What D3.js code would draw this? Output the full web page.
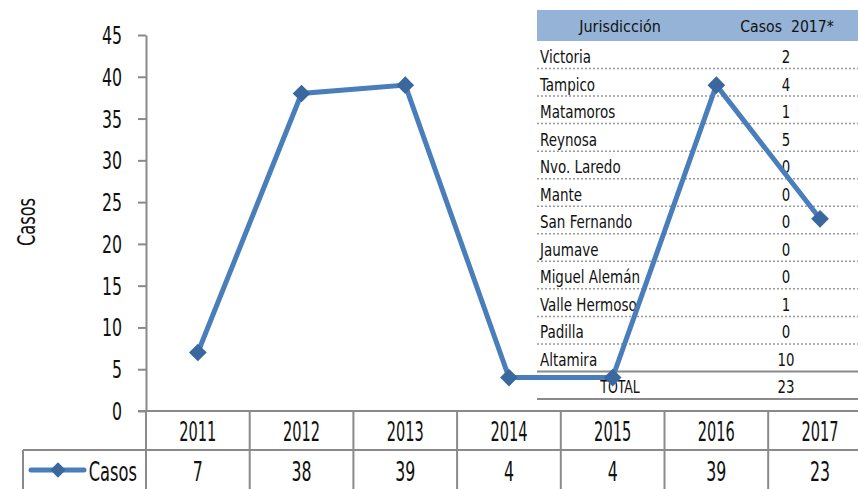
<!DOCTYPE html>
<html>
<head>
<meta charset="utf-8">
<script src="https://cdn.jsdelivr.net/npm/d3@7"></script>
<style>
  html, body { margin: 0; padding: 0; background: #fff; }
  svg { display: block; }
</style>
</head>
<body>
<div id="chart"></div>
<script>
// chart data
const years = ["2011", "2012", "2013", "2014", "2015", "2016", "2017"];
const casos = [7, 38, 39, 4, 4, 39, 23];
const yTicks = [0, 5, 10, 15, 20, 25, 30, 35, 40, 45];

// jurisdiction table (2017)
const jurisdicciones = ["Victoria", "Tampico", "Matamoros", "Reynosa", "Nvo. Laredo", "Mante",
    "San Fernando", "Jaumave", "Miguel Alemán", "Valle Hermoso", "Padilla", "Altamira"];
const casos2017 = [2, 4, 1, 5, 0, 0, 0, 0, 0, 1, 0, 10];
const totalLabel = "TOTAL";
const total2017 = 23;

const font = "'DejaVu Sans Condensed', 'Liberation Sans Narrow', sans-serif";
const gray = "#8a8a8a";
const lineColor = "#4a7ebb";
const markerColor = "#3a679e";

const width = 858, height = 489;

const svg = d3.select("#chart").append("svg")
    .attr("width", width)
    .attr("height", height)
    .attr("font-family", font);

const x = d3.scaleBand().domain(years).range([146, 146 + 7 * 103.7]);
const y = d3.scaleLinear().domain([0, 45]).range([411, 35]);

// helper: narrow text placed with a horizontal squeeze
function label(g, txt, px, py, size, anchor, sx) {
    return g.append("text")
        .attr("transform", `translate(${px},${py}) scale(${sx},1)`)
        .attr("text-anchor", anchor)
        .attr("font-size", size)
        .attr("fill", "#111")
        .text(txt);
}

// y axis
const yAxis = svg.append("g")
    .attr("class", "y-axis")
    .attr("transform", "translate(146,0)")
    .call(d3.axisLeft(y).tickValues(yTicks).tickSize(8).tickSizeOuter(0));
yAxis.select(".domain").attr("stroke", gray).attr("stroke-width", 2);
yAxis.selectAll(".tick line").attr("stroke", gray).attr("stroke-width", 2);
yAxis.selectAll(".tick text")
    .attr("x", null).attr("dy", null)
    .attr("font-family", font)
    .attr("font-size", 24)
    .attr("fill", "#111")
    .attr("transform", "translate(-24,8.5) scale(0.73,1)");

// y title
svg.append("text")
    .attr("transform", "translate(35,222) rotate(-90) scale(0.75,1)")
    .attr("text-anchor", "middle")
    .attr("font-size", 24)
    .attr("fill", "#111")
    .text("Casos");

// jurisdiction table (drawn under the line)
const tbl = svg.append("g").attr("class", "tabla");
const tX0 = 537, tX1 = 858, rowH = 27.54, headTop = 10, headBot = 41;
const colName = 540, colVal = 786;

tbl.append("rect")
    .attr("x", tX0).attr("y", headTop)
    .attr("width", tX1 - tX0).attr("height", headBot - headTop)
    .attr("fill", "#95b3d7");
label(tbl, "Jurisdicción", 620, 32, 16.5, "middle", 0.97);
label(tbl, "Casos\u00a0\u00a02017*", 787, 32, 16.5, "middle", 0.95);

jurisdicciones.forEach((name, i) => {
    const top = headBot + i * rowH;
    label(tbl, name, colName, top + 22, 18.5, "start", 0.81);
    label(tbl, casos2017[i], colVal, top + 22, 18.5, "middle", 0.8);
    if (i < jurisdicciones.length - 1) {
        tbl.append("line")
            .attr("x1", tX0).attr("x2", tX1)
            .attr("y1", top + rowH).attr("y2", top + rowH)
            .attr("stroke", "#999").attr("stroke-width", 1.5)
            .attr("stroke-dasharray", "2,2");
    }
});
const totTop = headBot + jurisdicciones.length * rowH;
[totTop, totTop + rowH].forEach(yy => {
    tbl.append("line")
        .attr("x1", tX0).attr("x2", tX1)
        .attr("y1", yy).attr("y2", yy)
        .attr("stroke", gray).attr("stroke-width", 2);
});
label(tbl, totalLabel, 620, totTop + 22, 18.5, "middle", 0.75);
label(tbl, total2017, colVal, totTop + 22, 18.5, "middle", 0.8);

// data table under the x axis
const dt = svg.append("g").attr("class", "data-table");
const rowTop = 411, rowMid = 450, rowBot = 495;
dt.append("line")
    .attr("x1", 138).attr("x2", width)
    .attr("y1", rowTop).attr("y2", rowTop)
    .attr("stroke", gray).attr("stroke-width", 2);
dt.append("line")
    .attr("x1", 23).attr("x2", width)
    .attr("y1", rowMid).attr("y2", rowMid)
    .attr("stroke", gray).attr("stroke-width", 2);
dt.append("line")
    .attr("x1", 23).attr("x2", 23)
    .attr("y1", rowMid).attr("y2", rowBot)
    .attr("stroke", gray).attr("stroke-width", 2);
years.forEach((yr, i) => {
    const bx = x(yr);
    dt.append("line")
        .attr("x1", bx).attr("x2", bx)
        .attr("y1", rowTop).attr("y2", rowBot)
        .attr("stroke", gray).attr("stroke-width", 2);
    const cx = bx + x.bandwidth() / 2;
    label(dt, yr, cx, 441, 27, "middle", 0.6);
    label(dt, casos[i], cx, 481, 27, "middle", 0.65);
});

// legend key in the data table
dt.append("line")
    .attr("x1", 31).attr("x2", 84)
    .attr("y1", 470).attr("y2", 470)
    .attr("stroke", lineColor).attr("stroke-width", 5)
    .attr("stroke-linecap", "round");
dt.append("path")
    .attr("d", d3.symbol(d3.symbolDiamond2, 150)())
    .attr("transform", "translate(58,470)")
    .attr("fill", markerColor);
label(dt, "Casos", 137, 481, 27, "end", 0.67);

// series line
const pts = years.map((yr, i) => [x(yr) + x.bandwidth() / 2, y(casos[i])]);
svg.append("path")
    .attr("class", "serie")
    .attr("d", d3.line()(pts))
    .attr("fill", "none")
    .attr("stroke", lineColor)
    .attr("stroke-width", 5)
    .attr("stroke-linejoin", "miter");

svg.selectAll("path.marker")
    .data(pts)
    .join("path")
    .attr("class", "marker")
    .attr("d", d3.symbol(d3.symbolDiamond2, 200)())
    .attr("transform", d => `translate(${d[0]},${d[1]})`)
    .attr("fill", markerColor);
</script>
</body>
</html>
